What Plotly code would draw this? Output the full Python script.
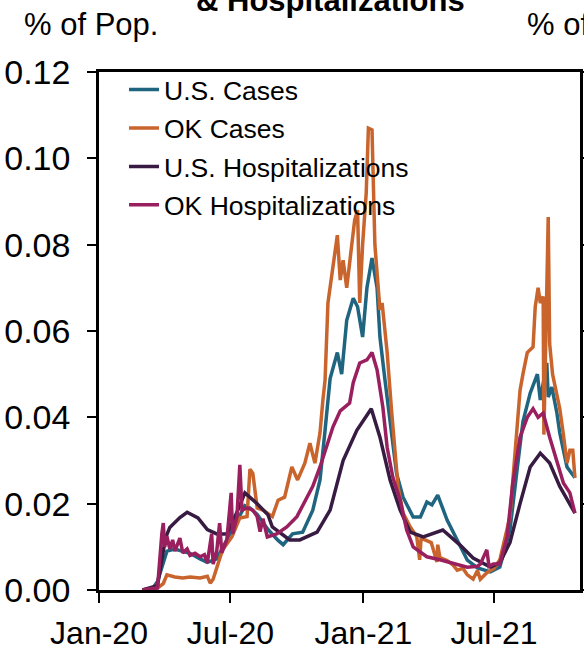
import plotly.graph_objects as go

# ---------------- data ----------------
us_hosp_dates = ["2020-03-01","2020-03-22","2020-03-28","2020-04-02","2020-04-08","2020-04-22","2020-05-02",
    "2020-05-13","2020-05-17","2020-05-30","2020-06-12","2020-06-26","2020-07-03","2020-07-10","2020-07-21",
    "2020-07-28","2020-08-07","2020-08-22","2020-08-28","2020-09-21","2020-10-05","2020-10-29","2020-11-16",
    "2020-12-04","2020-12-23","2021-01-12","2021-01-24","2021-02-07","2021-02-21","2021-03-07","2021-03-25",
    "2021-04-21","2021-05-15","2021-06-02","2021-06-26","2021-07-09","2021-07-23","2021-08-06","2021-08-20",
    "2021-09-03","2021-09-16","2021-09-30","2021-10-21"]
us_hosp = [0.0,0.001,0.007,0.012,0.0145,0.0168,0.018,
    0.0172,0.0167,0.014,0.013,0.013,0.0155,0.018,0.0225,
    0.0215,0.020,0.0174,0.0146,0.0116,0.0116,0.0134,0.0185,
    0.030,0.037,0.042,0.0354,0.0255,0.0185,0.0134,0.0123,
    0.0139,0.0104,0.0074,0.0053,0.0063,0.011,0.020,0.0285,
    0.0317,0.0294,0.024,0.0178]

us_cases_dates = ["2020-03-01","2020-03-15","2020-03-22","2020-03-28","2020-04-04","2020-04-15","2020-04-26",
    "2020-05-06","2020-05-20","2020-05-30","2020-06-12","2020-06-19","2020-06-30","2020-07-10","2020-07-21",
    "2020-07-28","2020-08-07","2020-08-22","2020-09-05","2020-09-12","2020-09-25","2020-10-09","2020-10-23",
    "2020-11-02","2020-11-09","2020-11-16","2020-11-26","2020-12-02","2020-12-09","2020-12-18","2020-12-24",
    "2020-12-31","2021-01-06","2021-01-13","2021-01-20","2021-01-24","2021-01-31","2021-02-07","2021-02-16",
    "2021-02-25","2021-03-11","2021-03-21","2021-03-30","2021-04-06","2021-04-14","2021-04-27","2021-05-11",
    "2021-05-25","2021-06-08","2021-06-26","2021-07-09","2021-07-23","2021-08-02","2021-08-10","2021-08-20",
    "2021-08-30","2021-09-03","2021-09-12","2021-09-14","2021-09-19","2021-09-26","2021-09-30","2021-10-10",
    "2021-10-21"]
us_cases = [0.0,0.0003,0.002,0.0055,0.009,0.0095,0.009,
    0.0085,0.0072,0.0064,0.0072,0.0093,0.013,0.016,0.0195,
    0.019,0.0175,0.014,0.0115,0.0105,0.013,0.0134,0.0185,
    0.0255,0.037,0.049,0.055,0.050,0.0625,0.0676,0.0656,
    0.0586,0.070,0.0769,0.070,0.0586,0.0486,0.039,0.027,
    0.0215,0.0169,0.0169,0.0204,0.0197,0.022,0.0162,0.0116,
    0.0069,0.0051,0.0042,0.0053,0.0139,0.028,0.039,0.0456,
    0.050,0.044,0.0526,0.0447,0.047,0.041,0.0364,0.0285,
    0.026]

ok_cases_dates = ["2020-03-01","2020-03-20","2020-03-30","2020-04-04","2020-04-15","2020-04-26","2020-05-06",
    "2020-05-20","2020-05-30","2020-06-03","2020-06-07","2020-06-12","2020-06-20","2020-07-03","2020-07-14",
    "2020-07-24","2020-07-28","2020-08-01","2020-08-07","2020-08-15","2020-08-28","2020-09-05","2020-09-14",
    "2020-09-24","2020-10-02","2020-10-12","2020-10-19","2020-10-26","2020-11-02","2020-11-06","2020-11-09",
    "2020-11-13","2020-11-19","2020-11-26","2020-11-30","2020-12-04","2020-12-09","2020-12-16","2020-12-20",
    "2020-12-24","2020-12-27","2020-12-31","2021-01-05","2021-01-08","2021-01-13","2021-01-17","2021-01-24",
    "2021-01-27","2021-02-03","2021-02-09","2021-02-14","2021-02-18","2021-02-25","2021-03-07","2021-03-16",
    "2021-03-20","2021-03-22","2021-04-05","2021-04-13","2021-04-14","2021-04-17","2021-04-27","2021-05-05",
    "2021-05-11","2021-05-19","2021-05-25","2021-06-02","2021-06-08","2021-06-12","2021-06-21","2021-07-01",
    "2021-07-09","2021-07-23","2021-08-02","2021-08-06","2021-08-10","2021-08-16","2021-08-24","2021-08-27",
    "2021-08-31","2021-09-03","2021-09-07","2021-09-08","2021-09-14","2021-09-16","2021-09-20","2021-09-30",
    "2021-10-05","2021-10-10","2021-10-14","2021-10-18","2021-10-21"]
ok_cases = [0.0,0.0002,0.0015,0.0035,0.003,0.0028,0.003,
    0.0028,0.0032,0.0016,0.0025,0.0053,0.0093,0.0123,0.0167,
    0.017,0.028,0.027,0.019,0.0185,0.017,0.0208,0.0215,
    0.0285,0.0255,0.0294,0.034,0.0294,0.0364,0.044,0.0486,
    0.0665,0.074,0.0822,0.0718,0.0764,0.070,0.081,0.0857,
    0.088,0.0665,0.080,0.092,0.107,0.1066,0.080,0.0649,
    0.0665,0.055,0.0417,0.033,0.024,0.0178,0.0146,0.0123,
    0.007,0.012,0.011,0.0065,0.0105,0.0075,0.0068,0.0058,
    0.0046,0.005,0.0035,0.0025,0.0045,0.0025,0.004,0.005,
    0.007,0.017,0.0364,0.0463,0.050,0.055,0.0563,0.0656,
    0.070,0.0665,0.068,0.036,0.0864,0.057,0.050,0.042,
    0.036,0.0294,0.0324,0.0324,0.026]

ok_hosp_dates = ["2020-03-01","2020-03-22","2020-03-28","2020-03-30","2020-04-01","2020-04-04","2020-04-08",
    "2020-04-12","2020-04-15","2020-04-22","2020-04-26","2020-05-02","2020-05-06","2020-05-13","2020-05-20",
    "2020-05-26","2020-05-30","2020-06-05","2020-06-07","2020-06-12","2020-06-16","2020-06-19","2020-06-26",
    "2020-07-02","2020-07-04","2020-07-10","2020-07-14","2020-07-17","2020-07-24","2020-08-01","2020-08-07",
    "2020-08-11","2020-08-15","2020-08-21","2020-09-03","2020-09-17","2020-10-01","2020-10-15","2020-10-23",
    "2020-11-02","2020-11-12","2020-11-20","2020-11-30","2020-12-13","2020-12-18","2020-12-27","2021-01-06",
    "2021-01-13","2021-01-20","2021-01-28","2021-02-03","2021-02-11","2021-02-21","2021-03-02","2021-03-11",
    "2021-03-30","2021-04-17","2021-05-05","2021-05-25","2021-06-08","2021-06-12","2021-06-16","2021-06-21",
    "2021-06-24","2021-06-30","2021-07-09","2021-07-19","2021-07-27","2021-08-06","2021-08-16","2021-08-24",
    "2021-08-31","2021-09-07","2021-09-16","2021-09-26","2021-10-05","2021-10-14","2021-10-21"]
ok_hosp = [0.0,0.0005,0.013,0.0155,0.010,0.0125,0.0095,
    0.0116,0.009,0.012,0.0086,0.0095,0.008,0.0085,0.0077,
    0.0082,0.0063,0.013,0.006,0.009,0.0155,0.0086,0.0116,
    0.0225,0.013,0.017,0.029,0.0185,0.019,0.0185,0.017,
    0.0135,0.0165,0.0123,0.013,0.0146,0.017,0.0215,0.024,
    0.0285,0.034,0.0378,0.0415,0.0433,0.048,0.0526,0.0533,
    0.055,0.051,0.0424,0.033,0.026,0.0208,0.0139,0.010,
    0.0077,0.007,0.0062,0.0053,0.0055,0.006,0.0075,0.0093,
    0.0055,0.006,0.006,0.0123,0.0248,0.0354,0.040,0.042,
    0.040,0.041,0.0354,0.030,0.0248,0.0225,0.0178]

y_ticks = [0.0, 0.02, 0.04, 0.06, 0.08, 0.10, 0.12]

# ---------------- figure ----------------
FONT = "Liberation Sans, Arial, sans-serif"
colors = {"U.S. Cases": "#1F6580", "OK Cases": "#C8642C",
          "U.S. Hospitalizations": "#371B42", "OK Hospitalizations": "#9A1F5E"}

fig = go.Figure()
for i, (name, xs, ys) in enumerate([("U.S. Cases", us_cases_dates, us_cases),
                                    ("OK Cases", ok_cases_dates, ok_cases),
                                    ("U.S. Hospitalizations", us_hosp_dates, us_hosp),
                                    ("OK Hospitalizations", ok_hosp_dates, ok_hosp)]):
    fig.add_trace(go.Scatter(x=xs, y=ys, mode="lines", name=name, legendgroup=f"g{i}",
                             line=dict(color=colors[name], width=3.5)))

fig.update_layout(
    width=584, height=651,
    margin=dict(l=99, r=4, t=72, b=61),
    paper_bgcolor="white", plot_bgcolor="white",
    font=dict(family=FONT, size=32, color="black"),
    showlegend=True,
    legend=dict(x=0.052, y=1.012, xanchor="left", yanchor="top",
                bgcolor="rgba(0,0,0,0)", font=dict(size=26.5),
                tracegroupgap=1, itemwidth=30),
    xaxis=dict(type="date", range=["2020-01-01", "2021-10-28"],
               tick0="2020-01-01", dtick="M6", tickformat="%b-%y",
               tickfont=dict(size=32),
               ticks="outside", ticklen=10, tickwidth=2, tickcolor="black",
               showline=True, linecolor="black", linewidth=2.5, mirror=True,
               showgrid=False, zeroline=False, ticklabelstandoff=3, automargin=False),
    yaxis=dict(range=[0, 0.12], tickvals=y_ticks, tickformat=".2f",
               tickfont=dict(size=34),
               ticks="outside", ticklen=9, tickwidth=2, tickcolor="black",
               showline=True, linecolor="black", linewidth=2.5, mirror="ticks",
               showgrid=False, zeroline=False, ticklabelstandoff=10, automargin=False),
    annotations=[
        dict(text="% of Pop.", xref="paper", yref="paper", x=-0.160, y=1.054,
             xanchor="left", yanchor="bottom", showarrow=False, font=dict(size=31)),
        dict(text="% of Pop.", xref="paper", yref="paper", x=0.885, y=1.054,
             xanchor="left", yanchor="bottom", showarrow=False, font=dict(size=31)),
        dict(text="<b>Oklahoma Cases<br>& Hospitalizations</b>", xref="paper", yref="paper",
             x=0.482, y=1.10, xanchor="center", yanchor="bottom", showarrow=False,
             font=dict(size=31)),
    ],
)

fig.write_html("out.html", config={"displayModeBar": False},
               post_script="document.body.style.margin='0px';document.body.style.overflow='hidden';")
